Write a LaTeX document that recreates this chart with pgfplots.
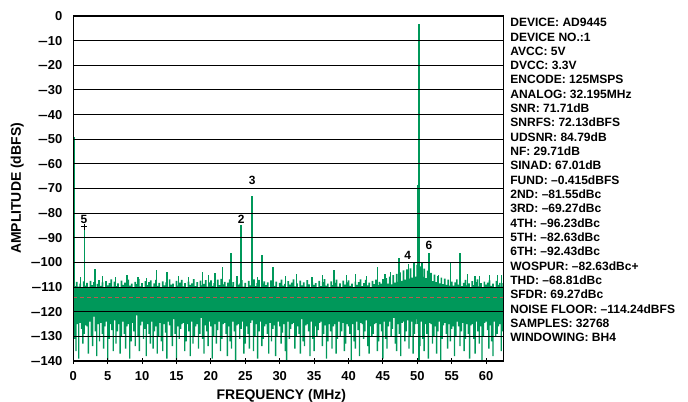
\documentclass[border=0pt]{standalone}
\usepackage{fontspec}
\setmainfont{Liberation Sans}
\usepackage{graphicx}
\usepackage{pgfplots}
\usepackage{pgfplotstable}
\pgfplotsset{compat=1.18}
\usepgfplotslibrary{fillbetween}

\definecolor{fftgreen}{RGB}{0,152,90}
\definecolor{floorred}{RGB}{185,90,80}
% a slightly wider minus for the amplitude ticks
\newcommand{\mn}{\scalebox{1.35}[1]{–}}

% discrete spurs above the noise band: bottom, top, break
\pgfplotstableread{
x y
0.12 -125
0.12 -49
0.12 nan
1.6 -120
1.6 -85.5
1.6 nan
3.15 -112
3.15 -102.8
3.15 nan
12.1 -112
12.1 -103
12.1 nan
13.6 -112
13.6 -104
13.6 nan
18.8 -112
18.8 -104
18.8 nan
20.6 -112
20.6 -104.4
20.6 nan
21.7 -112
21.7 -101.8
21.7 nan
22.9 -112
22.9 -96.3
22.9 nan
24.38 -120
24.38 -85.0
24.38 nan
25.94 -120
25.94 -72.9
25.94 nan
27.4 -112
27.4 -97.1
27.4 nan
29.0 -112
29.0 -102
29.0 nan
37.9 -112
37.9 -103
37.9 nan
39.7 -112
39.7 -105
39.7 nan
41.0 -112
41.0 -104.7
41.0 nan
44.2 -112
44.2 -102
44.2 nan
46.1 -112
46.1 -104
46.1 nan
47.3 -112
47.3 -98.1
47.3 nan
48.7 -112
48.7 -100.5
48.7 nan
49.5 -112
49.5 -100
49.5 nan
50.1 -125
50.1 -68.5
50.1 nan
50.7 -112
50.7 -99.7
50.7 nan
51.74 -112
51.74 -96.1
51.74 nan
53.1 -112
53.1 -105
53.1 nan
54.8 -112
54.8 -100.3
54.8 nan
56.2 -112
56.2 -96.3
56.2 nan
58.4 -112
58.4 -105.5
58.4 nan
60.5 -112
60.5 -105
}\spurs

% smaller noise peaks poking out of the band: bottom, top, break
\pgfplotstableread{
x y
1.0 -112
1.0 -106
1.0 nan
4.3 -112
4.3 -105.5
4.3 nan
6.1 -112
6.1 -106
6.1 nan
7.8 -112
7.8 -105
7.8 nan
9.4 -112
9.4 -105.8
9.4 nan
10.6 -112
10.6 -106.2
10.6 nan
15.3 -112
15.3 -105.4
15.3 nan
16.8 -112
16.8 -106
16.8 nan
19.6 -112
19.6 -105.2
19.6 nan
23.8 -112
23.8 -105.5
23.8 nan
26.8 -112
26.8 -106
26.8 nan
30.9 -112
30.9 -105.6
30.9 nan
32.4 -112
32.4 -104.8
32.4 nan
34.7 -112
34.7 -106.1
34.7 nan
36.2 -112
36.2 -105.3
36.2 nan
42.6 -112
42.6 -105.7
42.6 nan
45.3 -112
45.3 -104.5
45.3 nan
57.3 -112
57.3 -104.8
57.3 nan
59.0 -112
59.0 -105.6
59.0 nan
61.6 -112
61.6 -105.2
61.6 nan
62.2 -112
62.2 -104.9
}\smallspurs

\begin{document}
\begin{tikzpicture}
\begin{axis}[
  name=ax,
  scale only axis,
  width=430bp, height=345bp,
  xmin=0, xmax=62.5, ymin=-140, ymax=0,
  axis on top,
  clip=true,
  xtick={0,5,10,15,20,25,30,35,40,45,50,55,60},
  xticklabels={0,5,10,15,20,25,30,35,40,45,50,55,60},
  ytick={-140,-130,-120,-110,-100,-90,-80,-70,-60,-50,-40,-30,-20,-10,0},
  yticklabels={\mn140,\mn130,\mn120,\mn110,\mn100,\mn90,\mn80,\mn70,\mn60,\mn50,\mn40,\mn30,\mn20,\mn10,0},
  xtick pos=left, ytick pos=left,
  tick align=center,
  major tick length=6bp,
  xtick style={black, line width=1bp},
  ytick style={draw=none},
  ymajorgrids,
  major grid style={black, line width=0.9bp},
  axis line style={black, line width=1.3bp},
  tick label style={font=\fontsize{13}{13}\selectfont\bfseries},
  xticklabel style={yshift=-3.7bp},
  yticklabel style={xshift=-4.5bp},
  label style={font=\fontsize{14}{14}\selectfont\bfseries},
  xlabel={FREQUENCY (MHz)},
  ylabel={AMPLITUDE (dBFS)},
  xlabel style={at={(axis description cs:0.484,-0.113)}, anchor=base},
  ylabel style={at={(axis description cs:-0.1302,0.5)}, anchor=center},
]
  % upper edge of the noise band (dBFS)
  \addplot[name path=top, draw=none, const plot mark mid] coordinates {
(0,-108.2) (0.25,-109.6) (0.5,-107.9) (0.75,-109.8) (1,-108.6) (1.25,-110.1) (1.5,-107.7) (1.75,-109.4) (2,-108.3) (2.25,-109.9)
(2.5,-107.5) (2.75,-109.2) (3,-108) (3.25,-110) (3.5,-108.7) (3.75,-107.2) (4,-109.5) (4.25,-108.1) (4.5,-110.2) (4.75,-107.6)
(5,-109.3) (5.25,-108.4) (5.5,-106.9) (5.75,-109.8) (6,-107.8) (6.25,-109.6) (6.5,-108.5) (6.75,-110) (7,-107.4) (7.25,-109.1)
(7.5,-108.2) (7.75,-109.9) (8,-107) (8.25,-109.4) (8.5,-108.6) (8.75,-110.3) (9,-107.9) (9.25,-108.8) (9.5,-106.8) (9.75,-109.7)
(10,-108.4) (10.25,-110) (10.5,-107.6) (10.75,-109.2) (11,-108) (11.25,-107.3) (11.5,-109.8) (11.75,-108.5) (12,-107.1) (12.25,-109.5)
(12.5,-108.3) (12.75,-110.1) (13,-107.7) (13.25,-109.3) (13.5,-108.1) (13.75,-109.9) (14,-106.9) (14.25,-109) (14.5,-108.6) (14.75,-110.2)
(15,-107.5) (15.25,-109.4) (15.5,-108.2) (15.75,-107.1) (16,-109.7) (16.25,-108.4) (16.5,-110) (16.75,-107.8) (17,-109.1) (17.25,-108.5)
(17.5,-106.8) (17.75,-109.6) (18,-108) (18.25,-110.2) (18.5,-107.4) (18.75,-109.3) (19,-108.7) (19.25,-107.2) (19.5,-109.8) (19.75,-108.1)
(20,-107.3) (20.25,-109.5) (20.5,-108.4) (20.75,-110) (21,-107) (21.25,-109.2) (21.5,-106.7) (21.75,-108.9) (22,-107.9) (22.25,-109.7)
(22.5,-108.2) (22.75,-106.9) (23,-109.4) (23.25,-108) (23.5,-110.1) (23.75,-107.6) (24,-109) (24.25,-108.5) (24.5,-107.2) (24.75,-109.8)
(25,-108.3) (25.25,-110) (25.5,-107.5) (25.75,-109.3) (26,-108) (26.25,-106.9) (26.5,-109.6) (26.75,-108.4) (27,-107.1) (27.25,-109.9)
(27.5,-108.6) (27.75,-107.7) (28,-109.2) (28.25,-108.1) (28.5,-110.2) (28.75,-107.3) (29,-108.8) (29.25,-109.5) (29.5,-107.8) (29.75,-110)
(30,-108.3) (30.25,-107) (30.5,-109.4) (30.75,-108.7) (31,-110.1) (31.25,-107.6) (31.5,-109) (31.75,-108.2) (32,-106.9) (32.25,-109.7)
(32.5,-108.5) (32.75,-110) (33,-107.4) (33.25,-109.3) (33.5,-108.1) (33.75,-109.8) (34,-107.2) (34.25,-108.9) (34.5,-110.2) (34.75,-107.9)
(35,-109.1) (35.25,-108.4) (35.5,-110) (35.75,-107.5) (36,-109.6) (36.25,-108) (36.5,-106.8) (36.75,-109.4) (37,-108.6) (37.25,-110.1)
(37.5,-107.7) (37.75,-109.2) (38,-108.3) (38.25,-107) (38.5,-109.8) (38.75,-108.5) (39,-110) (39.25,-107.4) (39.5,-109) (39.75,-108.1)
(40,-107.3) (40.25,-109.5) (40.5,-108.6) (40.75,-110.2) (41,-107.8) (41.25,-109.1) (41.5,-108) (41.75,-106.9) (42,-109.6) (42.25,-108.4)
(42.5,-107.1) (42.75,-109.3) (43,-108.2) (43.25,-110) (43.5,-107.5) (43.75,-108.8) (44,-107) (44.25,-109.2) (44.5,-107.9) (44.75,-108.6)
(45,-106.8) (45.25,-109.0) (45.5,-106.4) (45.75,-108.6) (46,-105.8) (46.25,-108.9) (46.5,-105.2) (46.75,-108.2) (47,-104.6) (47.25,-107.9)
(47.5,-104.0) (47.75,-107.5) (48,-103.2) (48.25,-107.0) (48.5,-102.8) (48.75,-106.6) (49,-102.4) (49.25,-106.2) (49.5,-101.8) (49.75,-105.8)
(50,-101.0) (50.25,-105.5) (50.5,-101.6) (50.75,-105.9) (51,-102.5) (51.25,-106.4) (51.5,-103.3) (51.75,-107.0) (52,-104.2) (52.25,-107.6)
(52.5,-104.9) (52.75,-108.0) (53,-105.6) (53.25,-108.5) (53.5,-106.2) (53.75,-108.8) (54,-106.6) (54.25,-109.1) (54.5,-107.0) (54.75,-109.4)
(55,-107.8) (55.25,-109.4) (55.5,-108.1) (55.75,-106.9) (56,-109) (56.25,-107.7) (56.5,-109.6) (56.75,-108.3) (57,-107.1) (57.25,-109.3)
(57.5,-108.5) (57.75,-110) (58,-107.6) (58.25,-109.2) (58.5,-108) (58.75,-106.9) (59,-109.7) (59.25,-108.4) (59.5,-110.1) (59.75,-107.8)
(60,-109) (60.25,-108.2) (60.5,-107.3) (60.75,-109.5) (61,-108.6) (61.25,-110) (61.5,-107.5) (61.75,-109.1) (62,-108.3) (62.25,-109.8)
(62.5,-108.4)
  };
  % lower edge of the noise band (dBFS)
  \addplot[name path=bot, draw=none, const plot mark mid] coordinates {
(0.0,-124) (0.2,-131) (0.4,-136) (0.6,-125) (0.8,-139) (1.0,-124.5) (1.2,-127) (1.4,-133) (1.6,-129) (1.8,-125.5)
(2.0,-126) (2.2,-137) (2.4,-124) (2.6,-130) (2.8,-134) (3.0,-122) (3.2,-128) (3.4,-138) (3.6,-125) (3.8,-132)
(4.0,-124.5) (4.2,-129) (4.4,-135) (4.6,-126) (4.8,-124) (5.0,-140) (5.2,-131) (5.4,-125) (5.6,-127.5) (5.8,-136)
(6.0,-123.5) (6.2,-133) (6.4,-128) (6.6,-125) (6.8,-137) (7.0,-130) (7.2,-124) (7.4,-129) (7.6,-135) (7.8,-126)
(8.0,-125) (8.2,-139) (8.4,-132) (8.6,-124.5) (8.8,-128) (9.0,-134) (9.2,-121.5) (9.4,-130) (9.6,-136) (9.8,-125.5)
(10.0,-124) (10.2,-131) (10.4,-127) (10.6,-138) (10.8,-125) (11.0,-129) (11.2,-133) (11.4,-124) (11.6,-135) (11.8,-128)
(12.0,-126) (12.2,-137) (12.4,-130) (12.6,-124.5) (12.8,-132) (13.0,-136) (13.2,-125) (13.4,-128.5) (13.6,-139) (13.8,-124)
(14.0,-125.5) (14.2,-130) (14.4,-134) (14.6,-123) (14.8,-129) (15.0,-140) (15.2,-126) (15.4,-131) (15.6,-127) (15.8,-125)
(16.0,-124.5) (16.2,-136) (16.4,-132) (16.6,-125) (16.8,-128) (17.0,-138) (17.2,-124) (17.4,-133) (17.6,-130) (17.8,-126)
(18.0,-125) (18.2,-135) (18.4,-129) (18.6,-122.5) (18.8,-131) (19.0,-137) (19.2,-125.5) (19.4,-128) (19.6,-134) (19.8,-124)
(20.0,-126) (20.2,-139) (20.4,-130) (20.6,-125) (20.8,-133) (21.0,-127.5) (21.2,-124) (21.4,-136) (21.6,-131) (21.8,-125)
(22.0,-124.5) (22.2,-129) (22.4,-138) (22.6,-126) (22.8,-132) (23.0,-135) (23.2,-124) (23.4,-128) (23.6,-140) (23.8,-125.5)
(24.0,-125) (24.2,-131) (24.4,-127) (24.6,-124) (24.8,-137) (25.0,-133) (25.2,-126) (25.4,-129) (25.6,-135) (25.8,-124.5)
(26.0,-123.5) (26.2,-136) (26.4,-130) (26.6,-125) (26.8,-139) (27.0,-128) (27.2,-124) (27.4,-134) (27.6,-131) (27.8,-126)
(28.0,-125) (28.2,-129) (28.4,-137) (28.6,-124.5) (28.8,-132) (29.0,-127) (29.2,-125.5) (29.4,-138) (29.6,-130) (29.8,-124)
(30.0,-126) (30.2,-133) (30.4,-128.5) (30.6,-125) (30.8,-136) (31.0,-140) (31.2,-124) (31.4,-131) (31.6,-127) (31.8,-125)
(32.0,-124.5) (32.2,-135) (32.4,-130) (32.6,-126) (32.8,-129) (33.0,-137) (33.2,-123) (33.4,-132) (33.6,-134) (33.8,-125.5)
(34.0,-125) (34.2,-128) (34.4,-138) (34.6,-124) (34.8,-131) (35.0,-136) (35.2,-126) (35.4,-130) (35.6,-127.5) (35.8,-124.5)
(36.0,-124) (36.2,-134) (36.4,-129) (36.6,-125.5) (36.8,-139) (37.0,-132) (37.2,-125) (37.4,-128) (37.6,-135) (37.8,-126)
(38.0,-125) (38.2,-137) (38.4,-131) (38.6,-124) (38.8,-130) (39.0,-128) (39.2,-124.5) (39.4,-136) (39.6,-133) (39.8,-125)
(40.0,-126) (40.2,-129) (40.4,-140) (40.6,-125) (40.8,-132) (41.0,-135) (41.2,-124) (41.4,-127.5) (41.6,-138) (41.8,-124.5)
(42.0,-125) (42.2,-131) (42.4,-128) (42.6,-123.5) (42.8,-134) (43.0,-137) (43.2,-126) (43.4,-130) (43.6,-129) (43.8,-125)
(44.0,-124.5) (44.2,-136) (44.4,-132) (44.6,-125) (44.8,-128) (45.0,-139) (45.2,-124) (45.4,-131) (45.6,-135) (45.8,-126)
(46.0,-124) (46.2,-130) (46.4,-127) (46.6,-122.5) (46.8,-133) (47.0,-136) (47.2,-125) (47.4,-129) (47.6,-138) (47.8,-124.5)
(48.0,-124) (48.2,-132) (48.4,-128) (48.6,-123.5) (48.8,-135) (49.0,-130) (49.2,-124) (49.4,-137) (49.6,-129) (49.8,-125)
(50.0,-123) (50.2,-128.5) (50.4,-134) (50.6,-124) (50.8,-131) (51.0,-136) (51.2,-125) (51.4,-129) (51.6,-139) (51.8,-124.5)
(52.0,-125) (52.2,-133) (52.4,-130) (52.6,-126) (52.8,-137) (53.0,-128) (53.2,-124) (53.4,-140) (53.6,-131) (53.8,-125.5)
(54.0,-124.5) (54.2,-129) (54.4,-135) (54.6,-125) (54.8,-132) (55.0,-127) (55.2,-126) (55.4,-138) (55.6,-130) (55.8,-124)
(56.0,-126) (56.2,-134) (56.4,-128) (56.6,-124.5) (56.8,-136) (57.0,-131) (57.2,-125) (57.4,-129) (57.6,-139) (57.8,-125.5)
(58.0,-125) (58.2,-131) (58.4,-137) (58.6,-124) (58.8,-128) (59.0,-133) (59.2,-126) (59.4,-140) (59.6,-130) (59.8,-124.5)
(60.0,-124) (60.2,-127.5) (60.4,-135) (60.6,-125.5) (60.8,-132) (61.0,-138) (61.2,-124) (61.4,-130) (61.6,-129) (61.8,-126)
(62.0,-125) (62.2,-136) (62.4,-128) (62.5,-125)
  };
  \addplot[fill=fftgreen, draw=none] fill between[of=top and bot];

  \addplot[fftgreen, line width=1.1bp, unbounded coords=jump] table {\smallspurs};
  \addplot[fftgreen, line width=1.6bp, unbounded coords=jump] table {\spurs};
  % fundamental
  \addplot[fftgreen, line width=1.7bp] coordinates {(50.25,-140) (50.25,-3.2)};

  % harmonic marker on the 5th
  \addplot[only marks, mark=+, mark size=3bp, black, line width=0.7bp] coordinates {(1.6,-85.5)};

  % average noise floor
  \addplot[floorred, line width=1.1bp, dash pattern=on 3.5bp off 3.5bp] coordinates {(0,-114.24) (62.5,-114.24)};

  % harmonic numbers
  \node[font=\fontsize{12}{12}\selectfont\bfseries] at (axis cs:1.56,-82.5) {5};
  \node[font=\fontsize{12}{12}\selectfont\bfseries] at (axis cs:24.4,-82.4) {2};
  \node[font=\fontsize{12}{12}\selectfont\bfseries] at (axis cs:26.0,-66.6) {3};
  \node[font=\fontsize{12}{12}\selectfont\bfseries] at (axis cs:48.6,-97.2) {4};
  \node[font=\fontsize{12}{12}\selectfont\bfseries] at (axis cs:51.7,-93.2) {6};
\end{axis}

% measurement summary
\foreach \t [count=\i from 0] in {DEVICE: AD9445, DEVICE NO.:1, AVCC: 5V, DVCC: 3.3V,
  ENCODE: 125MSPS, ANALOG: 32.195MHz, SNR: 71.71dB, SNRFS: 72.13dBFS, UDSNR: 84.79dB,
  NF: 29.71dB, SINAD: 67.01dB, FUND: –0.415dBFS, 2ND: –81.55dBc, 3RD: –69.27dBc,
  4TH: –96.23dBc, 5TH: –82.63dBc, 6TH: –92.43dBc, WOSPUR: –82.63dBc+, THD: –68.81dBc,
  SFDR: 69.27dBc, NOISE FLOOR: –114.24dBFS, SAMPLES: 32768, WINDOWING: BH4}
{
  \node[anchor=base west, inner sep=0pt, font=\fontsize{12.1}{12.1}\selectfont\bfseries]
    at ([xshift=6.8bp, yshift=-10.7bp-\i*14.32bp]ax.north east) {\t};
}

\pgfresetboundingbox
\path ([xshift=-73.3bp, yshift=16bp]ax.north west) rectangle ([xshift=184.7bp, yshift=-41bp]ax.south east);
\end{tikzpicture}
\end{document}
